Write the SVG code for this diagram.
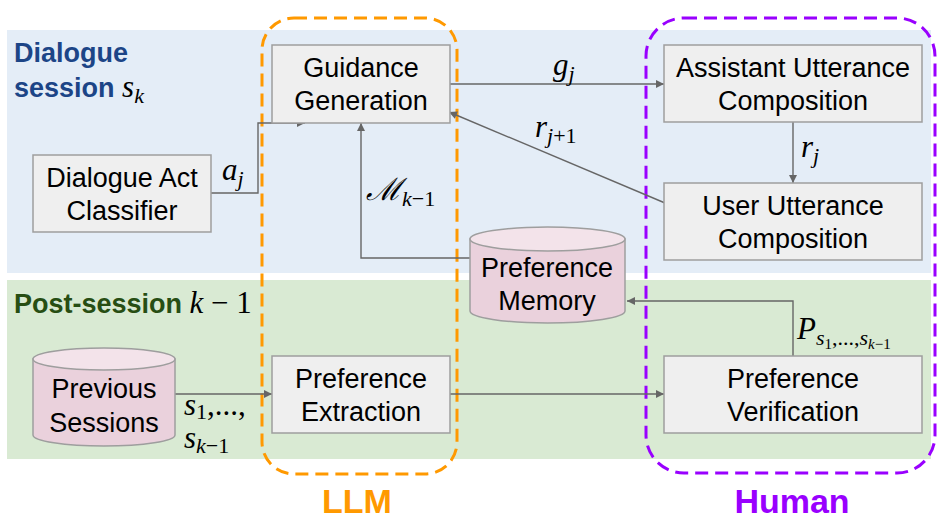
<svg xmlns="http://www.w3.org/2000/svg" width="937" height="520" viewBox="0 0 937 520">
<defs>
<style>
.box{fill:#efefef;stroke:#9e9e9e;stroke-width:1.5}
.cyl{fill:#ead1dc;stroke:#9e9e9e;stroke-width:1.5}
.cyltop{fill:#f3e3ea;stroke:#9e9e9e;stroke-width:1.5}
.t{font-family:"Liberation Sans",Arial,sans-serif;font-size:27px;fill:#000;text-anchor:middle}
.m{font-family:"Liberation Serif","DejaVu Serif",serif;font-style:italic;font-size:31px;fill:#000}
.up{font-style:normal}
.sub{font-size:22px}
.conn{fill:none;stroke:#666;stroke-width:1.4}
.sec{font-family:"Liberation Sans",Arial,sans-serif;font-weight:bold;font-size:27px}
</style>
<marker id="ah" viewBox="0 0 10 10" refX="10" refY="5" markerWidth="10" markerHeight="8" markerUnits="userSpaceOnUse" orient="auto">
<path d="M0,0 L10,5 L0,10 Z" fill="#666"/>
</marker>
</defs>
<rect width="937" height="520" fill="#fff"/>
<g id="panels">
<rect x="7" y="30" width="924" height="243" fill="#e4edf7"/>
<rect x="7" y="280" width="924" height="179" fill="#d9ead3"/>
<text class="sec" x="14" y="62" fill="#1c4587">Dialogue</text>
<text class="sec" x="14" y="97" fill="#1c4587">session <tspan class="m" style="font-weight:normal" fill="#3d6eb4">s<tspan class="sub" dy="6">k</tspan></tspan></text>
<text class="sec" x="14" y="313" fill="#274e13">Post-session <tspan class="m" style="font-weight:normal" fill="#38761d">k <tspan class="up">− 1</tspan></tspan></text>
</g>
<g id="llm-group">
<rect x="262" y="18" width="195" height="456" rx="32" fill="none" stroke="#ff9900" stroke-width="3" stroke-dasharray="13,7"/>
<text x="357" y="513" font-family="Liberation Sans,Arial,sans-serif" font-weight="bold" font-size="34" fill="#ff9900" text-anchor="middle">LLM</text>
</g>
<g id="human-group">
<rect x="646" y="18" width="289" height="455" rx="38" fill="none" stroke="#9900ff" stroke-width="3" stroke-dasharray="13,7"/>
<text x="792" y="513" font-family="Liberation Sans,Arial,sans-serif" font-weight="bold" font-size="34" fill="#9900ff" text-anchor="middle">Human</text>
</g>
<g id="connectors">
<path class="conn" d="M211,193 H258 V123 H305" marker-end="url(#ah)"/>
<path class="conn" d="M450,84 H664" marker-end="url(#ah)"/>
<path class="conn" d="M665,203 L449,112" marker-end="url(#ah)"/>
<path class="conn" d="M793,122 V183" marker-end="url(#ah)"/>
<path class="conn" d="M470,258 H361 V123" marker-end="url(#ah)"/>
<path class="conn" d="M172,394 H272" marker-end="url(#ah)"/>
<path class="conn" d="M450,394 H664" marker-end="url(#ah)"/>
<path class="conn" d="M793,356 V301 H627" marker-end="url(#ah)"/>
<text class="m" x="222" y="180">a<tspan class="sub" dy="6">j</tspan></text>
<text class="m" x="553" y="75">g<tspan class="sub" dy="6">j</tspan></text>
<text class="m" x="535" y="137">r<tspan class="sub" dy="6">j<tspan class="up">+1</tspan></tspan></text>
<text class="m" x="366" y="200">ℳ<tspan class="sub" dy="6">k<tspan class="up">−1</tspan></tspan></text>
<text class="m" x="801" y="157">r<tspan class="sub" dy="6">j</tspan></text>
<text class="m" x="184" y="415">s<tspan class="sub up" dy="4">1</tspan><tspan class="up" dy="-4">,...,</tspan></text>
<text class="m" x="184" y="448">s<tspan class="sub" dy="5">k<tspan class="up">−1</tspan></tspan></text>
<text class="m" x="797" y="339">P<tspan class="sub" dy="6">s</tspan><tspan class="up" style="font-size:15px" dy="4">1</tspan><tspan class="sub up" dy="-4">,...,</tspan><tspan class="sub">s</tspan><tspan style="font-size:15px" dy="4">k<tspan class="up">−1</tspan></tspan></text>
</g>
<g id="dialogue-act-classifier">
<rect class="box" x="33" y="155" width="178" height="77"/>
<text class="t" x="122" y="187">Dialogue Act</text>
<text class="t" x="122" y="220">Classifier</text>
</g>
<g id="guidance-generation">
<rect class="box" x="272" y="45" width="178" height="78"/>
<text class="t" x="361" y="77">Guidance</text>
<text class="t" x="361" y="110">Generation</text>
</g>
<g id="assistant-utterance">
<rect class="box" x="664" y="45" width="258" height="77"/>
<text class="t" x="793" y="77">Assistant Utterance</text>
<text class="t" x="793" y="110">Composition</text>
</g>
<g id="user-utterance">
<rect class="box" x="664" y="183" width="258" height="77"/>
<text class="t" x="793" y="215">User Utterance</text>
<text class="t" x="793" y="248">Composition</text>
</g>
<g id="preference-memory">
<path class="cyl" d="M470,239 V311 A77.5,12 0 0 0 625,311 V239 Z"/>
<ellipse class="cyltop" cx="547.5" cy="239" rx="77.5" ry="12"/>
<text class="t" x="547" y="277">Preference</text>
<text class="t" x="547" y="310">Memory</text>
</g>
<g id="previous-sessions">
<path class="cyl" d="M33,359 V435 A71,11 0 0 0 175,435 V359 Z"/>
<ellipse class="cyltop" cx="104" cy="359" rx="71" ry="11"/>
<text class="t" x="104" y="398">Previous</text>
<text class="t" x="104" y="432">Sessions</text>
</g>
<g id="preference-extraction">
<rect class="box" x="272" y="356" width="178" height="77"/>
<text class="t" x="361" y="388">Preference</text>
<text class="t" x="361" y="421">Extraction</text>
</g>
<g id="preference-verification">
<rect class="box" x="664" y="356" width="258" height="77"/>
<text class="t" x="793" y="388">Preference</text>
<text class="t" x="793" y="421">Verification</text>
</g>
</svg>
